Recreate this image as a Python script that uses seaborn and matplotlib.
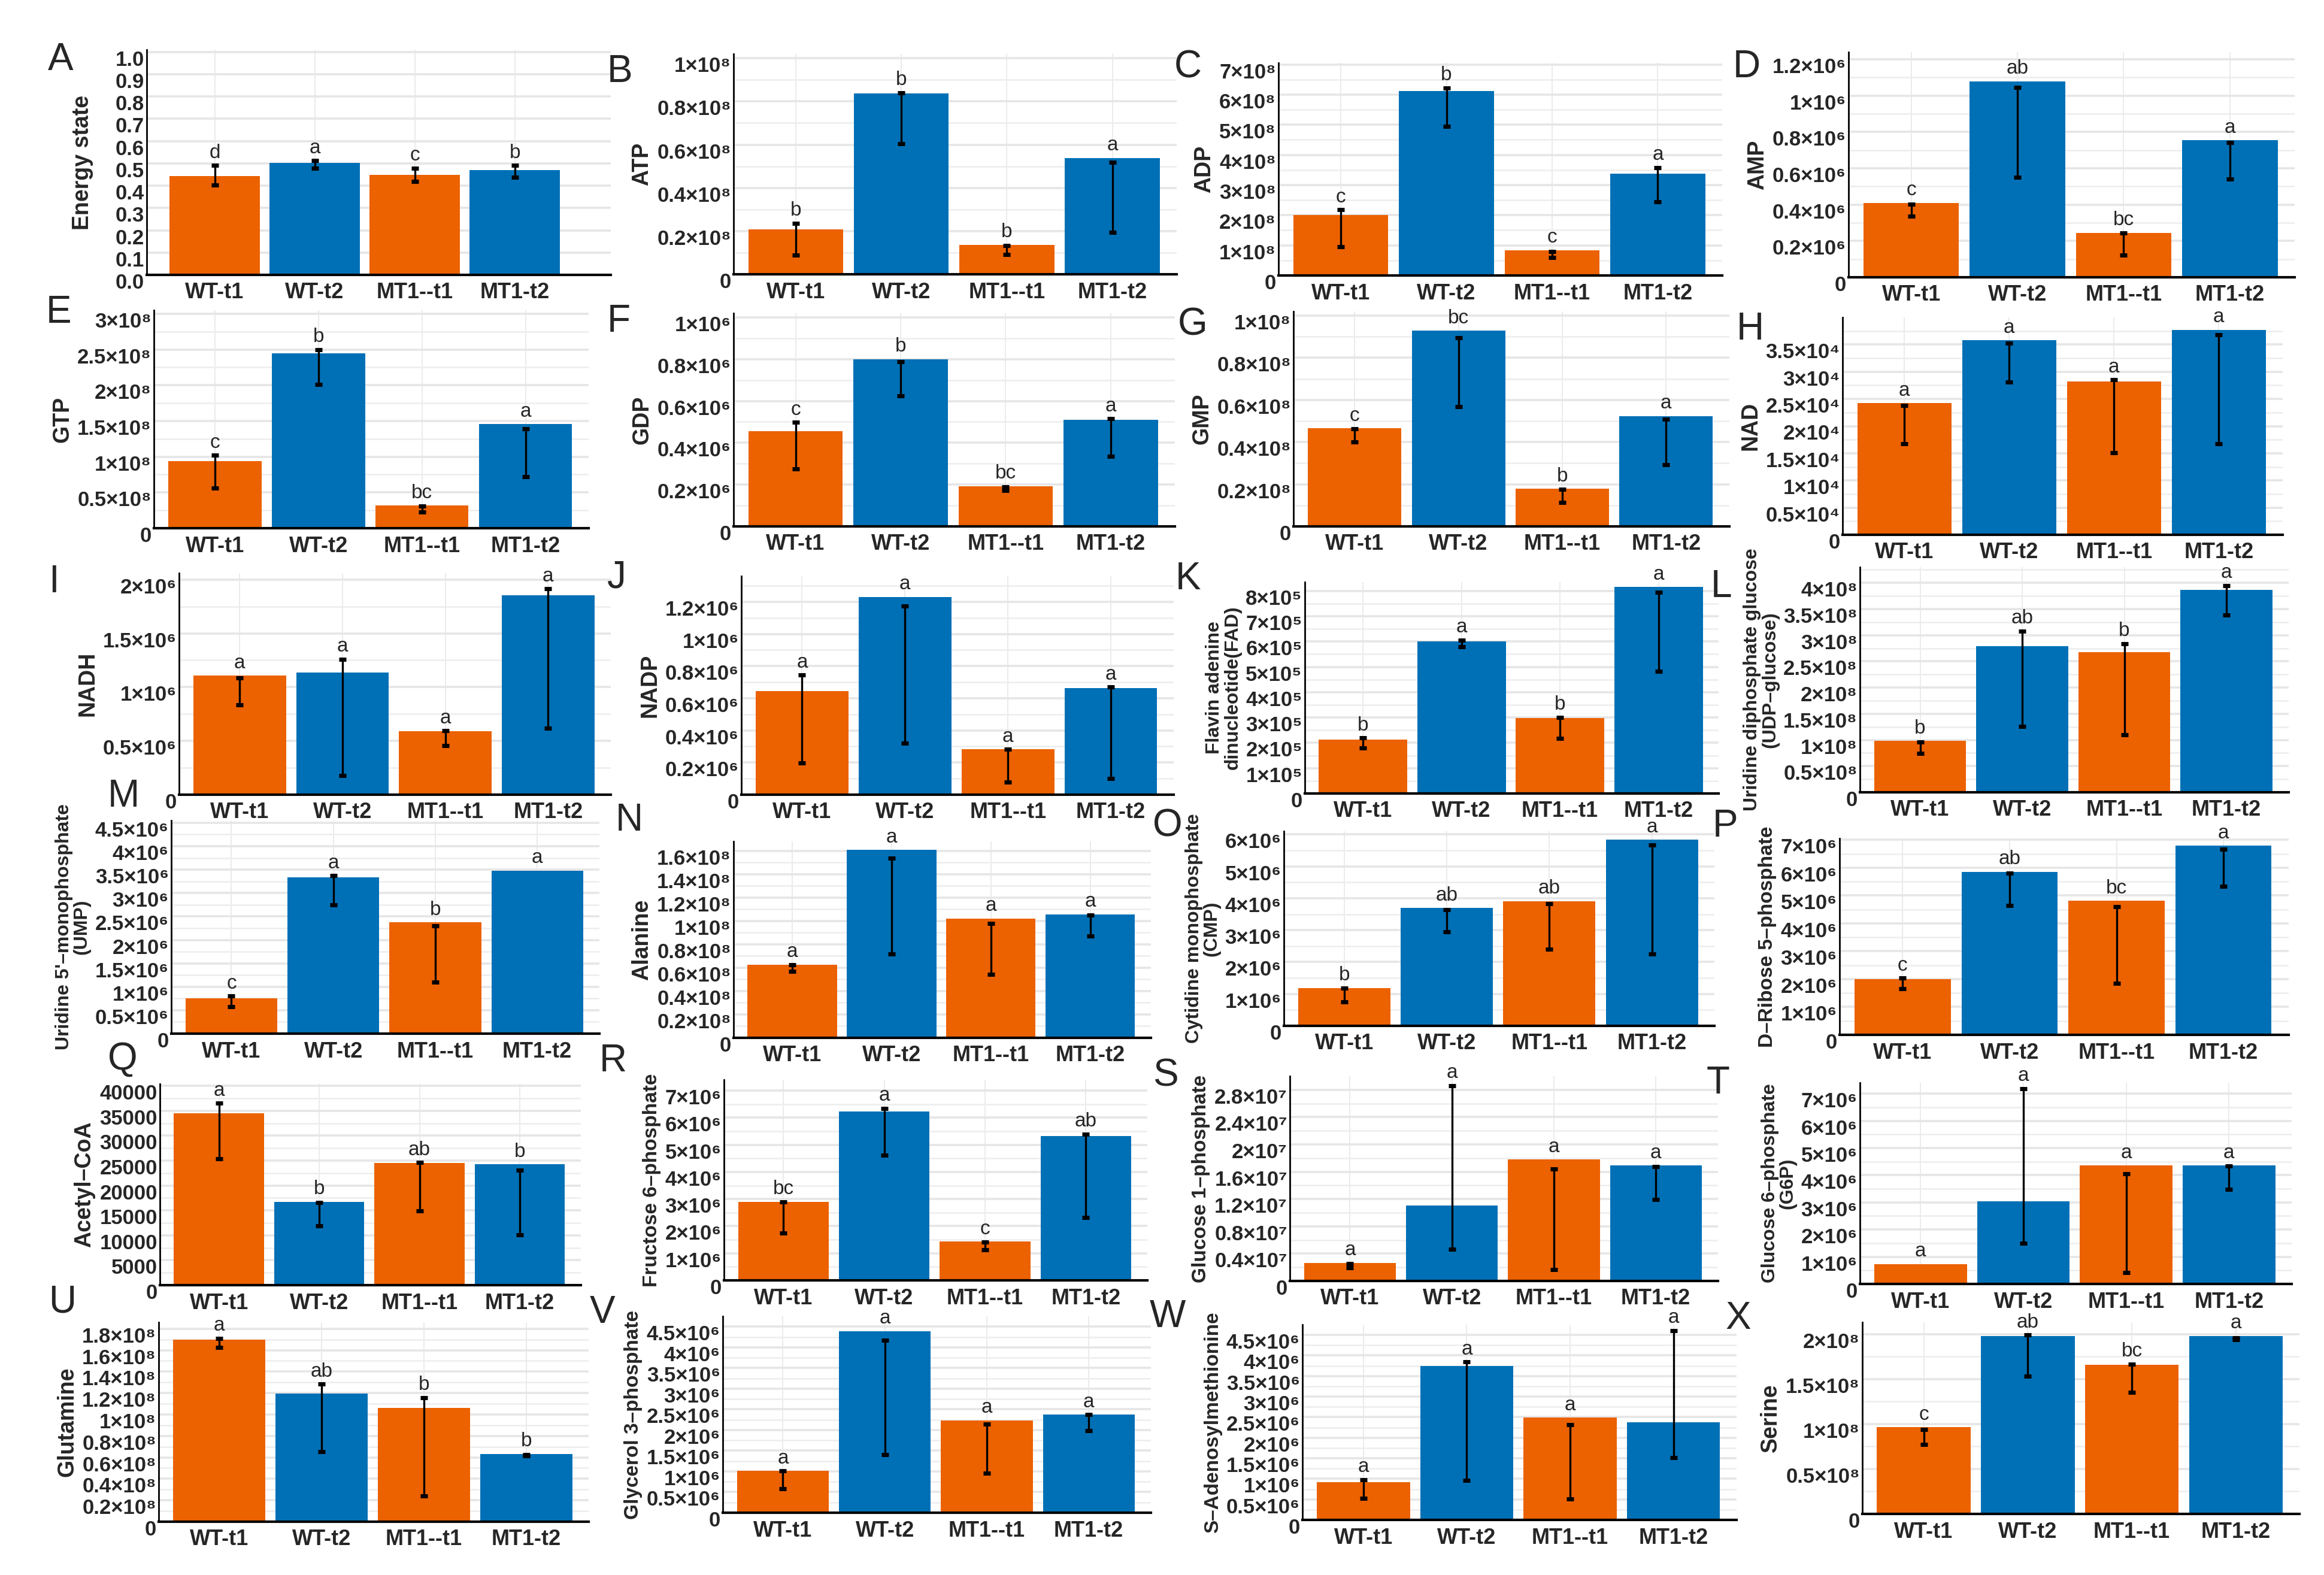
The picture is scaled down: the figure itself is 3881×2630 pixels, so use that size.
import numpy as np
import pandas as pd
import seaborn as sns
import matplotlib.pyplot as plt
from matplotlib.transforms import ScaledTranslation

GROUPS = ["WT-t1", "WT-t2", "MT1--t1", "MT1-t2"]
BAR_COLORS = ["#EC6100", "#0070B6", "#EC6100", "#0070B6"]

# ---- values (bar height, error bar low / high, letters) ----
energy = [0.443, 0.501, 0.449, 0.469]
energy_lo = [0.402, 0.478, 0.418, 0.438]
energy_hi = [0.491, 0.512, 0.479, 0.491]
energy_sig = ["d", "a", "c", "b"]
energy_ticks = [0.0, 0.1, 0.2, 0.3, 0.4, 0.5, 0.6, 0.7, 0.8, 0.9, 1.0]

atp = [0.207, 0.836, 0.137, 0.538]
atp_lo = [0.089, 0.603, 0.091, 0.193]
atp_hi = [0.236, 0.840, 0.134, 0.517]
atp_sig = ["b", "b", "b", "a"]
atp_ticks = [0, 0.2, 0.4, 0.6, 0.8, 1]

adp = [2.01, 6.12, 0.84, 3.38]
adp_lo = [0.96, 4.94, 0.59, 2.44]
adp_hi = [2.18, 6.22, 0.80, 3.58]
adp_sig = ["c", "b", "c", "a"]
adp_ticks = [0, 1, 2, 3, 4, 5, 6, 7]

amp = [0.41, 1.079, 0.244, 0.755]
amp_lo = [0.338, 0.552, 0.123, 0.541]
amp_hi = [0.401, 1.044, 0.244, 0.742]
amp_sig = ["c", "ab", "bc", "a"]
amp_ticks = [0, 0.2, 0.4, 0.6, 0.8, 1, 1.2]

gtp = [0.936, 2.45, 0.317, 1.456]
gtp_lo = [0.56, 2.01, 0.228, 0.72]
gtp_hi = [1.02, 2.50, 0.306, 1.39]
gtp_sig = ["c", "b", "bc", "a"]
gtp_ticks = [0, 0.5, 1, 1.5, 2, 2.5, 3]

gdp = [0.456, 0.80, 0.193, 0.509]
gdp_lo = [0.274, 0.625, 0.173, 0.335]
gdp_hi = [0.498, 0.788, 0.19, 0.515]
gdp_sig = ["c", "b", "bc", "a"]
gdp_ticks = [0, 0.2, 0.4, 0.6, 0.8, 1]

gmp = [0.465, 0.928, 0.178, 0.524]
gmp_lo = [0.40, 0.568, 0.115, 0.294]
gmp_hi = [0.463, 0.895, 0.176, 0.509]
gmp_sig = ["c", "bc", "b", "a"]
gmp_ticks = [0, 0.2, 0.4, 0.6, 0.8, 1]

nad = [2.42, 3.58, 2.82, 3.77]
nad_lo = [1.67, 2.81, 1.51, 1.67]
nad_hi = [2.38, 3.53, 2.85, 3.68]
nad_sig = ["a", "a", "a", "a"]
nad_ticks = [0, 0.5, 1, 1.5, 2, 2.5, 3, 3.5]

nadh = [1.106, 1.138, 0.589, 1.853]
nadh_lo = [0.836, 0.177, 0.455, 0.617]
nadh_hi = [1.087, 1.26, 0.595, 1.914]
nadh_sig = ["a", "a", "a", "a"]
nadh_ticks = [0, 0.5, 1, 1.5, 2]

nadp = [0.645, 1.23, 0.282, 0.663]
nadp_lo = [0.198, 0.322, 0.077, 0.102]
nadp_hi = [0.744, 1.173, 0.282, 0.67]
nadp_sig = ["a", "a", "a", "a"]
nadp_ticks = [0, 0.2, 0.4, 0.6, 0.8, 1, 1.2]

fad = [2.13, 6.0, 2.98, 8.15]
fad_lo = [1.80, 5.79, 2.17, 4.83]
fad_hi = [2.19, 6.06, 3.01, 7.95]
fad_sig = ["b", "a", "b", "a"]
fad_ticks = [0, 1, 2, 3, 4, 5, 6, 7, 8]

udpg = [0.98, 2.79, 2.68, 3.87]
udpg_lo = [0.742, 1.26, 1.10, 3.38]
udpg_hi = [0.965, 3.08, 2.84, 3.95]
udpg_sig = ["b", "ab", "b", "a"]
udpg_ticks = [0, 0.5, 1, 1.5, 2, 2.5, 3, 3.5, 4]

ump = [0.76, 3.33, 2.375, 3.48]
ump_lo = [0.575, 2.75, 1.10, 3.48]
ump_hi = [0.80, 3.37, 2.30, 3.48]
ump_sig = ["c", "a", "b", "a"]
ump_ticks = [0, 0.5, 1, 1.5, 2, 2.5, 3, 3.5, 4, 4.5]

ala = [0.626, 1.607, 1.019, 1.056]
ala_lo = [0.569, 0.715, 0.544, 0.872]
ala_hi = [0.626, 1.535, 0.979, 1.048]
ala_sig = ["a", "a", "a", "a"]
ala_ticks = [0, 0.2, 0.4, 0.6, 0.8, 1, 1.2, 1.4, 1.6]

cmp_ = [1.175, 3.69, 3.91, 5.83]
cmp_lo = [0.75, 2.94, 2.41, 2.25]
cmp_hi = [1.19, 3.64, 3.83, 5.67]
cmp_sig = ["b", "ab", "ab", "a"]
cmp_ticks = [0, 1, 2, 3, 4, 5, 6]

r5p = [2.0, 5.85, 4.81, 6.79]
r5p_lo = [1.65, 4.65, 1.84, 5.34]
r5p_hi = [2.04, 5.80, 4.61, 6.67]
r5p_sig = ["c", "ab", "bc", "a"]
r5p_ticks = [0, 1, 2, 3, 4, 5, 6, 7]

acoa = [34520, 16720, 24520, 24240]
acoa_lo = [25400, 11920, 14920, 10120]
acoa_hi = [36520, 16640, 24640, 23120]
acoa_sig = ["a", "b", "ab", "b"]
acoa_ticks = [0, 5000, 10000, 15000, 20000, 25000, 30000, 35000, 40000]

f6p = [2.90, 6.24, 1.43, 5.33]
f6p_lo = [1.75, 4.62, 1.12, 2.33]
f6p_hi = [2.89, 6.35, 1.41, 5.40]
f6p_sig = ["bc", "a", "c", "ab"]
f6p_ticks = [0, 1, 2, 3, 4, 5, 6, 7]

g1p = [0.266, 1.105, 1.778, 1.69]
g1p_lo = [0.19, 0.468, 0.164, 1.19]
g1p_hi = [0.257, 2.86, 1.64, 1.675]
g1p_sig = ["a", "a", "a", "a"]
g1p_ticks = [0, 0.4, 0.8, 1.2, 1.6, 2, 2.4, 2.8]

g6p = [0.73, 3.04, 4.35, 4.35]
g6p_lo = [0.73, 1.49, 0.42, 3.47]
g6p_hi = [0.73, 7.18, 4.06, 4.33]
g6p_sig = ["a", "a", "a", "a"]
g6p_ticks = [0, 1, 2, 3, 4, 5, 6, 7]

gln = [1.698, 1.195, 1.06, 0.633]
gln_lo = [1.624, 0.652, 0.24, 0.615]
gln_hi = [1.711, 1.283, 1.158, 0.627]
gln_sig = ["a", "ab", "b", "b"]
gln_ticks = [0, 0.2, 0.4, 0.6, 0.8, 1, 1.2, 1.4, 1.6, 1.8]

g3p = [1.01, 4.39, 2.23, 2.37]
g3p_lo = [0.58, 1.41, 0.95, 1.98]
g3p_hi = [1.01, 4.17, 2.15, 2.37]
g3p_sig = ["a", "a", "a", "a"]
g3p_ticks = [0, 0.5, 1, 1.5, 2, 2.5, 3, 3.5, 4, 4.5]

sam = [0.92, 3.74, 2.49, 2.38]
sam_lo = [0.53, 0.96, 0.51, 1.51]
sam_hi = [0.98, 3.84, 2.32, 4.61]
sam_sig = ["a", "a", "a", "a"]
sam_ticks = [0, 0.5, 1, 1.5, 2, 2.5, 3, 3.5, 4, 4.5]

ser = [0.962, 1.978, 1.66, 1.978]
ser_lo = [0.773, 1.533, 1.349, 1.94]
ser_hi = [0.938, 1.989, 1.667, 1.956]
ser_sig = ["c", "ab", "bc", "a"]
ser_ticks = [0, 0.5, 1, 1.5, 2]

# letter, y label, values, low, high, letters, ticks, exponent of the tick unit, top of y axis
panels = [
    ("A", "Energy state", energy, energy_lo, energy_hi, energy_sig, energy_ticks, None, 1.01),
    ("B", "ATP", atp, atp_lo, atp_hi, atp_sig, atp_ticks, 8, 1.02),
    ("C", "ADP", adp, adp_lo, adp_hi, adp_sig, adp_ticks, 8, 7.05),
    ("D", "AMP", amp, amp_lo, amp_hi, amp_sig, amp_ticks, 6, 1.24),
    ("E", "GTP", gtp, gtp_lo, gtp_hi, gtp_sig, gtp_ticks, 8, 3.05),
    ("F", "GDP", gdp, gdp_lo, gdp_hi, gdp_sig, gdp_ticks, 6, 1.02),
    ("G", "GMP", gmp, gmp_lo, gmp_hi, gmp_sig, gmp_ticks, 8, 1.02),
    ("H", "NAD", nad, nad_lo, nad_hi, nad_sig, nad_ticks, 4, 4.0),
    ("I", "NADH", nadh, nadh_lo, nadh_hi, nadh_sig, nadh_ticks, 6, 2.06),
    ("J", "NADP", nadp, nadp_lo, nadp_hi, nadp_sig, nadp_ticks, 6, 1.36),
    ("K", "Flavin adenine\ndinucleotide(FAD)", fad, fad_lo, fad_hi, fad_sig, fad_ticks, 5, 8.35),
    ("L", "Uridine diphosphate glucose\n(UDP\u2013glucose)", udpg, udpg_lo, udpg_hi, udpg_sig, udpg_ticks, 8, 4.3),
    ("M", "Uridine 5'\u2013monophosphate\n(UMP)", ump, ump_lo, ump_hi, ump_sig, ump_ticks, 6, 4.55),
    ("N", "Alanine", ala, ala_lo, ala_hi, ala_sig, ala_ticks, 8, 1.68),
    ("O", "Cytidine monophosphate\n(CMP)", cmp_, cmp_lo, cmp_hi, cmp_sig, cmp_ticks, 6, 6.1),
    ("P", "D\u2013Ribose 5\u2013phosphate", r5p, r5p_lo, r5p_hi, r5p_sig, r5p_ticks, 6, 7.05),
    ("Q", "Acetyl\u2013CoA", acoa, acoa_lo, acoa_hi, acoa_sig, acoa_ticks, 0, 40400),
    ("R", "Fructose 6\u2013phosphate", f6p, f6p_lo, f6p_hi, f6p_sig, f6p_ticks, 6, 7.4),
    ("S", "Glucose 1\u2013phosphate", g1p, g1p_lo, g1p_hi, g1p_sig, g1p_ticks, 7, 3.0),
    ("T", "Glucose 6\u2013phosphate\n(G6P)", g6p, g6p_lo, g6p_hi, g6p_sig, g6p_ticks, 6, 7.4),
    ("U", "Glutamine", gln, gln_lo, gln_hi, gln_sig, gln_ticks, 8, 1.86),
    ("V", "Glycerol 3\u2013phosphate", g3p, g3p_lo, g3p_hi, g3p_sig, g3p_ticks, 6, 4.75),
    ("W", "S\u2013Adenosylmethionine", sam, sam_lo, sam_hi, sam_sig, sam_ticks, 6, 4.75),
    ("X", "Serine", ser, ser_lo, ser_hi, ser_sig, ser_ticks, 8, 2.13),
]

# ---- layout in pixels of the 3881 x 2630 canvas: axes box (l, t, r, b) and panel letter (x, top) ----
W, H = 3881, 2630
boxes = {
    "A": (245, 83, 1020, 459), "B": (1225, 90, 1965, 458), "C": (2135, 105, 2876, 460), "D": (3087, 87, 3832, 463),
    "E": (257, 518, 983, 882), "F": (1225, 523, 1962, 879), "G": (2160, 520, 2888, 879), "H": (3077, 530, 3812, 893),
    "I": (299, 957, 1020, 1327), "J": (1238, 962, 1960, 1327), "K": (2179, 972, 2870, 1325), "L": (3106, 947, 3822, 1323),
    "M": (286, 1370, 1001, 1726), "N": (1225, 1405, 1922, 1733), "O": (2144, 1388, 2863, 1713), "P": (3072, 1400, 3822, 1728),
    "Q": (267, 1810, 970, 2146), "R": (1209, 1803, 1916, 2138), "S": (2154, 1797, 2869, 2139), "T": (3106, 1808, 3827, 2144),
    "U": (265, 2208, 983, 2541), "V": (1207, 2198, 1922, 2526), "W": (2175, 2212, 2900, 2538), "X": (3110, 2208, 3840, 2528),
}
letter_pos = {
    "A": (80, 70), "B": (1014, 90), "C": (1961, 82), "D": (2894, 82),
    "E": (77, 492), "F": (1014, 507), "G": (1967, 512), "H": (2900, 520),
    "I": (81, 942), "J": (1014, 935), "K": (1963, 937), "L": (2857, 950),
    "M": (180, 1300), "N": (1028, 1340), "O": (1925, 1350), "P": (2860, 1350),
    "Q": (180, 1739), "R": (1001, 1742), "S": (1925, 1767), "T": (2850, 1779),
    "U": (81, 2144), "V": (985, 2162), "W": (1920, 2169), "X": (2882, 2172),
}

SUP = {4: "\u2074", 5: "\u2075", 6: "\u2076", 7: "\u2077", 8: "\u2078"}


def tick_text(v, expo):
    if expo is None:
        return f"{v:.1f}"
    if expo == 0:
        return f"{v:d}"
    if v == 0:
        return "0"
    return f"{v:g}\u00d710{SUP[expo]}"


def label_size(text):
    # short names are set large, long and two-line names smaller
    if "\n" in text:
        return 23
    if len(text) > 12:
        return 24
    return 27


sns.set_style("whitegrid")
plt.rcParams["font.family"] = ["Liberation Sans", "DejaVu Sans"]

fig = plt.figure(figsize=(W / 100, H / 100), dpi=100)

for letter, ylab, vals, lo, hi, sig, ticks, expo, ytop in panels:
    l, t, r, b = boxes[letter]
    ax = fig.add_axes([l / W, 1 - b / H, (r - l) / W, (b - t) / H])
    df = pd.DataFrame({"group": GROUPS, "value": vals})
    sns.barplot(data=df, x="group", y="value", hue="group", palette=BAR_COLORS,
                legend=False, width=0.9, saturation=1, errorbar=None, linewidth=0,
                ax=ax, zorder=2)

    # error bars (low/high read separately, they are not symmetric round the bar)
    xs = np.arange(len(GROUPS))
    lo_a = np.array(lo, dtype=float)
    hi_a = np.array(hi, dtype=float)
    show = hi_a > lo_a
    mid = (lo_a + hi_a) / 2
    half = (hi_a - lo_a) / 2
    ax.errorbar(xs[show], mid[show], yerr=half[show], fmt="none", ecolor="black",
                elinewidth=2.4, capsize=4.5, capthick=5, zorder=3)

    top = np.maximum(np.array(vals, dtype=float), hi_a)
    for x, y, s in zip(xs, top, sig):
        ax.annotate(s, (x, y), xytext=(0, 4), textcoords="offset points",
                    ha="center", va="bottom", fontsize=24, zorder=4)

    if letter == "A":
        ax.set_xlim(-0.68, 3.96)
    else:
        ax.set_xlim(-0.59, 3.61)
    ax.set_ylim(0, ytop)

    ax.set_yticks(ticks)
    ax.set_yticklabels([tick_text(v, expo) for v in ticks], fontsize=25, fontweight="bold")
    if letter != "A":
        step = ticks[1] - ticks[0]
        minors = np.arange(step / 2, ytop, step)
        ax.set_yticks(minors, minor=True)
    ax.set_xticks(xs)
    ax.set_xticklabels(GROUPS, fontsize=26, fontweight="bold")

    ax.grid(False)
    ax.set_axisbelow(True)
    ax.yaxis.grid(True, which="major", color="#E6E6E6", linewidth=2.6)
    ax.yaxis.grid(True, which="minor", color="#EDEDED", linewidth=1.8)
    ax.xaxis.grid(True, which="major", color="#E8E8E8", linewidth=1.2)

    ax.tick_params(axis="both", which="both", length=0)
    ax.tick_params(axis="y", pad=3)
    ax.tick_params(axis="x", pad=9)

    for side in ["top", "right"]:
        ax.spines[side].set_visible(False)
    ax.spines["left"].set_color("black")
    ax.spines["left"].set_linewidth(2)
    ax.spines["bottom"].set_color("black")
    ax.spines["bottom"].set_linewidth(3)

    ax.set_xlabel("")
    ax.set_ylabel(ylab, fontsize=label_size(ylab), fontweight="bold", linespacing=1.0,
                  labelpad=26 if letter == "A" else 5)

    # tick labels in the original sit a bit below their grid line
    for lab in ax.get_yticklabels():
        lab.set_transform(lab.get_transform() + ScaledTranslation(0, -0.1, fig.dpi_scale_trans))

    lx, ly = letter_pos[letter]
    fig.text(lx / W, 1 - ly / H, letter, fontsize=46, ha="left", va="top")

fig.savefig("out.png", dpi=100)
